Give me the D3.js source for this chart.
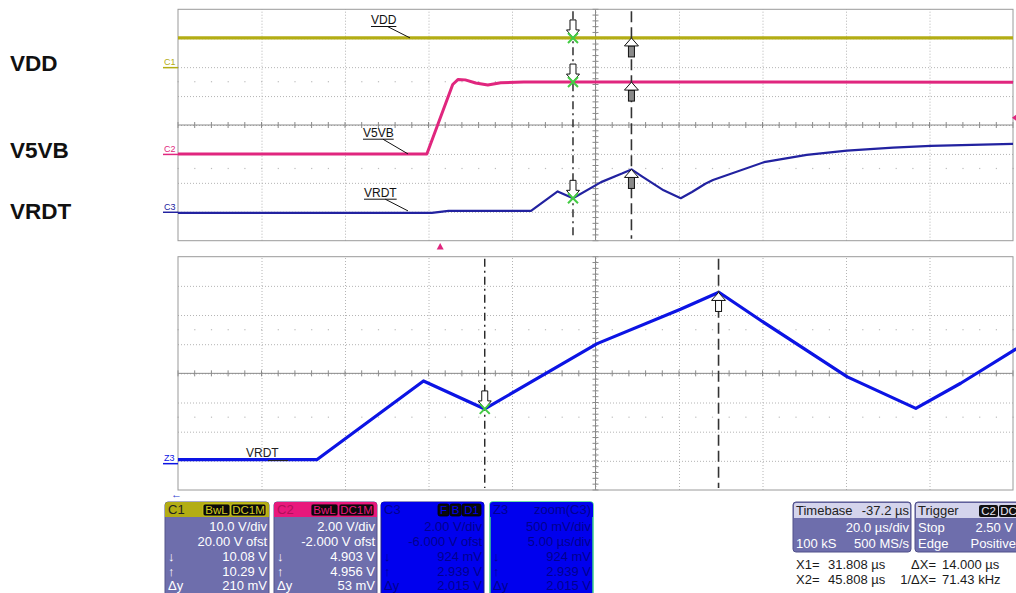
<!DOCTYPE html>
<html><head><meta charset="utf-8">
<script src="https://cdn.jsdelivr.net/npm/d3@7"></script>
<style>body{margin:0;background:#fff;overflow:hidden}svg{display:block;font-family:"Liberation Sans",Arial,sans-serif}</style>
</head><body><svg id="c" width="1016" height="593"></svg>
<script>
// ---------- data (time in µs, values in V) ----------
const vddT  = [-62.8, 137.2];
const vddV  = [10.1, 10.1];
const v5vbT = [-62.8, -3.2, 3.0, 4.3, 6.0, 8.5, 11.4, 14.5, 20, 137.2];
const v5vbV = [0, 0, 4.8, 5.15, 5.12, 4.9, 4.76, 4.92, 4.97, 4.96];
const vrdtT = [-62.8, -2, 2, 21.75, 28.14, 31.81, 38.54, 43.53, 45.83, 48.32, 53.52, 57.62, 60.31, 63.51, 65.34, 77.56, 87.79, 97.44, 108.46, 117.49, 137.2];
const vrdtV = [-0.08, -0.08, 0.06, 0.06, 1.41, 0.93, 2.05, 2.64, 2.93, 2.45, 1.48, 0.94, 1.37, 1.94, 2.2, 3.43, 3.93, 4.23, 4.43, 4.55, 4.69];
const cursorT = [31.808, 45.808];
const triggerLevel = 2.5;
const sideLabels = ["VDD", "V5VB", "VRDT"];
const traceNames = ["VDD", "V5VB", "VRDT"];
const chNames = ["C1", "C2", "C3", "Z3"];
const chBadges = [["BwL","DC1M"], ["BwL","DC1M"], ["F","B","D1"], []];
const chHeadRight = ["", "", "", "zoom(C3)"];
const chLines = [
  ["10.0 V/div", "20.00 V ofst", "10.08 V", "10.29 V", "210 mV"],
  ["2.00 V/div", "-2.000 V ofst", "4.903 V", "4.956 V", "53 mV"],
  ["2.00 V/div", "-6.000 V ofst", "924 mV", "2.939 V", "2.015 V"],
  ["500 mV/div", "5.00 µs/div", "924 mV", "2.939 V", "2.015 V"]
];
const rowMarks = ["", "", "↓", "↑", "Δy"];
const timebaseRows = [["Timebase", "-37.2 µs"], ["", "20.0 µs/div"], ["100 kS", "500 MS/s"]];
const triggerRows = [["Trigger", ""], ["Stop", "2.50 V"], ["Edge", "Positive"]];
const triggerBadges = ["C2", "DC"];
const readout = [["X1=", "31.808 µs", "ΔX=", "14.000 µs"], ["X2=", "45.808 µs", "1/ΔX=", "71.43 kHz"]];

// ---------- layout ----------
const svg = d3.select("#c");
const L = 178, R = 1013;
const topP = {y0: 9.3, y1: 240.7}, botP = {y0: 256.7, y1: 490};
const col = {yel: "#b3ad14", pink: "#e0267e", navy: "#2222a0", blue: "#0c14e4", grid: "#b4b4b4", axis: "#8a8a8a"};

const xTop  = d3.scaleLinear().domain([-62.8, 137.2]).range([L, R]);
const xZoom = d3.scaleLinear().domain([13.44, 63.44]).range([L, R]);
const yC1 = d3.scaleLinear().domain([-60, 20]).range([topP.y1, topP.y0]);
const yC2 = d3.scaleLinear().domain([-6, 10]).range([topP.y1, topP.y0]);
const yC3 = d3.scaleLinear().domain([-2, 14]).range([topP.y1, topP.y0]);
const yZ3 = d3.scaleLinear().domain([-0.46, 3.54]).range([botP.y1, botP.y0]);

function interp(T, V, t) {
  const i = Math.max(1, Math.min(T.length - 1, d3.bisectLeft(T, t)));
  const a = T[i-1], b = T[i];
  return V[i-1] + (V[i] - V[i-1]) * (t - a) / (b - a);
}

// ---------- grids ----------
function grid(p) {
  const g = svg.append("g");
  const h = p.y1 - p.y0, w = R - L;
  const yDiv = d3.scaleLinear().domain([0, 8]).range([p.y1, p.y0]);
  const xDiv = d3.scaleLinear().domain([0, 10]).range([L, R]);
  g.append("g").attr("transform", `translate(0,${p.y1})`)
    .call(d3.axisBottom(xDiv).tickValues(d3.range(1, 10)).tickSize(-h).tickFormat(""))
    .call(s => { s.select(".domain").remove(); s.selectAll("line").attr("stroke", col.grid).attr("stroke-dasharray", "1,2"); });
  g.append("g").attr("transform", `translate(${L},0)`)
    .call(d3.axisLeft(yDiv).tickValues(d3.range(1, 8)).tickSize(-w).tickFormat(""))
    .call(s => { s.select(".domain").remove(); s.selectAll("line").attr("stroke", col.grid).attr("stroke-dasharray", "1,2"); });
  const minors = d3.range(0, 50.01, 1).map(i => xDiv(i / 5));
  [2.5, 5.5].forEach(r => {
    g.selectAll(null).data(minors).join("rect")
      .attr("x", d => d - 0.5).attr("y", yDiv(r) - 0.5).attr("width", 1.2).attr("height", 1.2).attr("fill", "#bdbdbd");
  });
  const cy = yDiv(4), cx = xDiv(5);
  g.append("line").attr("x1", L).attr("x2", R).attr("y1", cy).attr("y2", cy).attr("stroke", col.axis);
  g.append("line").attr("x1", cx).attr("x2", cx).attr("y1", p.y0).attr("y2", p.y1).attr("stroke", col.axis);
  g.selectAll(null).data(minors).join("line")
    .attr("x1", d => d).attr("x2", d => d).attr("y1", cy - 3).attr("y2", cy + 3).attr("stroke", col.axis);
  g.selectAll(null).data(d3.range(0, 40.01, 1).map(i => yDiv(i / 5))).join("line")
    .attr("y1", d => d).attr("y2", d => d).attr("x1", cx - 3).attr("x2", cx + 3).attr("stroke", col.axis);
  g.append("rect").attr("x", L).attr("y", p.y0).attr("width", w).attr("height", h)
    .attr("fill", "none").attr("stroke", "#9a9a9a");
}
grid(topP);
grid(botP);

const defs = svg.append("defs");
defs.append("clipPath").attr("id", "ct").append("rect").attr("x", L).attr("y", topP.y0).attr("width", R - L + 3).attr("height", topP.y1 - topP.y0);
defs.append("clipPath").attr("id", "cb").append("rect").attr("x", L).attr("y", botP.y0).attr("width", R - L + 3).attr("height", botP.y1 - botP.y0);

function trace(clip, x, y, T, V, color, w) {
  svg.append("path").attr("clip-path", `url(#${clip})`)
    .datum(T.map((t, i) => [t, V[i]]))
    .attr("d", d3.line().x(d => x(d[0])).y(d => y(d[1])))
    .attr("fill", "none").attr("stroke", color).attr("stroke-width", w).attr("stroke-linejoin", "round");
}
trace("ct", xTop, yC1, vddT, vddV, col.yel, 3.2);
trace("ct", xTop, yC2, v5vbT, v5vbV, col.pink, 3);
trace("ct", xTop, yC3, vrdtT, vrdtV, col.navy, 2.2);
trace("cb", xZoom, yZ3, vrdtT, vrdtV, col.blue, 3.2);

[[xTop, topP], [xZoom, botP]].forEach(([x, p]) => {
  svg.append("line").attr("x1", x(cursorT[0])).attr("x2", x(cursorT[0])).attr("y1", p.y0 + 2).attr("y2", p.y1 - 2)
    .attr("stroke", "#222").attr("stroke-width", 1.4).attr("stroke-dasharray", "8,4,2,4");
  svg.append("line").attr("x1", x(cursorT[1])).attr("x2", x(cursorT[1])).attr("y1", p.y0 + 2).attr("y2", p.y1 - 2)
    .attr("stroke", "#333").attr("stroke-width", 1.6).attr("stroke-dasharray", "11,5");
});

function downArrow(x, y) {
  svg.append("path").attr("d", `M${x},${y}L${x-6.5},${y-8}L${x-3},${y-8}L${x-3},${y-18}L${x+3},${y-18}L${x+3},${y-8}L${x+6.5},${y-8}Z`)
    .attr("fill", "#fff").attr("stroke", "#111").attr("stroke-width", 1);
  svg.append("path").attr("d", `M${x-5},${y-5}L${x+5},${y+5}M${x+5},${y-5}L${x-5},${y+5}`)
    .attr("stroke", "#44cc44").attr("stroke-width", 2);
}
function upArrow(x, y, stemFill) {
  svg.append("rect").attr("x", x - 3).attr("y", y + 8).attr("width", 6).attr("height", 11)
    .attr("fill", stemFill).attr("stroke", "#111").attr("stroke-width", 1);
  svg.append("path").attr("d", `M${x},${y}L${x+7},${y+8}L${x-7},${y+8}Z`)
    .attr("fill", "#fff").attr("stroke", "#111").attr("stroke-width", 1);
}
const topSets = [[yC1, vddT, vddV], [yC2, v5vbT, v5vbV], [yC3, vrdtT, vrdtV]];
topSets.forEach(([y, T, V]) => {
  downArrow(xTop(cursorT[0]), y(interp(T, V, cursorT[0])));
  upArrow(xTop(cursorT[1]), y(interp(T, V, cursorT[1])), "#8a8a8a");
});
downArrow(xZoom(cursorT[0]), yZ3(interp(vrdtT, vrdtV, cursorT[0])));
upArrow(xZoom(cursorT[1]), yZ3(interp(vrdtT, vrdtV, cursorT[1])), "#fff");

const annoX = [371, 363, 364];
const annoY = [24, 136.7, 196.7];
const annoEnd = [[410, yC1(10.1)], [408, yC2(0)], [408, yC3(0.06)]];
traceNames.forEach((n, i) => {
  const t = svg.append("text").attr("x", annoX[i]).attr("y", annoY[i]).attr("font-size", 12).attr("fill", "#111").text(n);
  const w = t.node().getComputedTextLength();
  svg.append("line").attr("x1", annoX[i]).attr("x2", annoX[i] + w).attr("y1", annoY[i] + 2.5).attr("y2", annoY[i] + 2.5).attr("stroke", "#111");
  svg.append("line").attr("x1", annoX[i] + w * 0.65).attr("y1", annoY[i] + 2.5).attr("x2", annoEnd[i][0]).attr("y2", annoEnd[i][1]).attr("stroke", "#111");
});
svg.append("text").attr("x", 246).attr("y", 457).attr("font-size", 12).attr("fill", "#222").text(traceNames[2]);
svg.append("line").attr("x1", 268).attr("x2", 288).attr("y1", 460.5).attr("y2", 460.5).attr("stroke", "#222");

const gndY = [yC1(0), yC2(0), yC3(0), yZ3(0)];
const gndCol = [col.yel, col.pink, col.navy, col.blue];
chNames.forEach((n, i) => {
  svg.append("text").attr("x", 164).attr("y", gndY[i] - 2).attr("font-size", 9).attr("fill", gndCol[i]).text(n);
  svg.append("line").attr("x1", 163).attr("x2", 178).attr("y1", gndY[i] + 0.5).attr("y2", gndY[i] + 0.5).attr("stroke", gndCol[i]).attr("stroke-width", 1.5);
});
const tx = xTop(0);
svg.append("path").attr("d", `M${tx},243L${tx+3.5},249.5L${tx-3.5},249.5Z`).attr("fill", col.pink);
const tly = yC2(triggerLevel);
svg.append("path").attr("d", `M1012,${tly}L1016,${tly-3}L1016,${tly+3}Z`).attr("fill", col.pink);
svg.append("text").attr("x", 171).attr("y", 498).attr("font-size", 11).attr("fill", "#2a3ad0").text("←");

const sideY = [70.7, 158, 219];
sideLabels.forEach((s, i) => svg.append("text").attr("x", 10).attr("y", sideY[i]).attr("font-size", 22.5).attr("font-weight", "bold").attr("fill", "#111").text(s));

const boxX = [165, 274, 381, 490], boxW = [104, 103, 103, 103];
const headCol = [col.yel, "#e8187c", "#0000ee", "#0000ee"];
const headTxt = ["#222", "#b0105a", "#000090", "#000090"];
const bodyCol = ["#6e6eac", "#6e6eac", "#0000ee", "#0000ee"];
const bodyTxt = ["#fff", "#fff", "#00008e", "#00008e"];
const badgeTxt = ["#d4cc20", "#e8187c", "#0000ee", "#0000ee"];
const rowY = [530.5, 545.5, 560.5, 575.5, 589.5];
chNames.forEach((n, i) => {
  const g = svg.append("g");
  const x = boxX[i], w = boxW[i];
  g.append("rect").attr("x", x).attr("y", 502).attr("width", w).attr("height", 110).attr("rx", 3)
    .attr("fill", bodyCol[i]).attr("stroke", i === 3 ? "#3fd08a" : (i === 2 ? "#202080" : "#55558a")).attr("stroke-width", i === 3 ? 1.5 : 1);
  g.append("path").attr("d", `M${x},517V505Q${x},502 ${x+3},502H${x+w-3}Q${x+w},502 ${x+w},505V517Z`).attr("fill", headCol[i]);
  g.append("text").attr("x", x + 3).attr("y", 514).attr("font-size", 13).attr("fill", headTxt[i]).text(n);
  let bx = x + w - 2;
  chBadges[i].slice().reverse().forEach(b => {
    const bw = b.length * 8 + 4;
    bx -= bw;
    g.append("rect").attr("x", bx).attr("y", 504).attr("width", bw - 1).attr("height", 12).attr("rx", 2).attr("fill", "#0a0a0a")
      .attr("stroke", headCol[i] === "#0000ee" ? "#000" : badgeTxt[i]).attr("stroke-width", 0.8);
    g.append("text").attr("x", bx + (bw - 1) / 2).attr("y", 514).attr("text-anchor", "middle").attr("font-size", 11.5).attr("fill", badgeTxt[i]).text(b);
  });
  if (chHeadRight[i]) g.append("text").attr("x", x + w - 2).attr("y", 514).attr("text-anchor", "end").attr("font-size", 13).attr("fill", headTxt[i]).text(chHeadRight[i]);
  chLines[i].forEach((t, j) => {
    g.append("text").attr("x", x + w - 2).attr("y", rowY[j]).attr("text-anchor", "end").attr("font-size", 13).attr("fill", bodyTxt[i]).text(t);
    if (rowMarks[j]) g.append("text").attr("x", x + 3).attr("y", rowY[j]).attr("font-size", 13).attr("fill", bodyTxt[i]).text(rowMarks[j]);
  });
});

function infoBox(x, w, rows, badges) {
  const g = svg.append("g");
  g.append("rect").attr("x", x).attr("y", 502).attr("width", w).attr("height", 50).attr("rx", 3).attr("fill", "#6e6eac").attr("stroke", "#50508a");
  g.append("path").attr("d", `M${x+1},518V505Q${x+1},503 ${x+3},503H${x+w-3}Q${x+w-1},503 ${x+w-1},505V518Z`).attr("fill", "#d4d4ec");
  const ty = [515, 532, 548];
  rows.forEach((r, j) => {
    const c = j === 0 ? "#222" : "#fff";
    if (r[0]) g.append("text").attr("x", x + 3).attr("y", ty[j]).attr("font-size", 13).attr("fill", c).text(r[0]);
    if (r[1]) g.append("text").attr("x", x + w - 2).attr("y", ty[j]).attr("text-anchor", "end").attr("font-size", 13).attr("fill", c).text(r[1]);
  });
  if (badges) {
    let bx = 979;
    badges.forEach(b => {
      const bw = b.length * 8 + 3;
      g.append("rect").attr("x", bx).attr("y", 505).attr("width", bw).attr("height", 12).attr("rx", 2).attr("fill", "#111");
      g.append("text").attr("x", bx + bw / 2).attr("y", 515).attr("text-anchor", "middle").attr("font-size", 11.5).attr("fill", "#e8e8f4").text(b);
      bx += bw + 1;
    });
  }
}
infoBox(793, 118, timebaseRows, null);
infoBox(915, 110, triggerRows.map((r, j) => j === 0 ? r : [r[0], ""]), triggerBadges);
svg.append("text").attr("x", 1013).attr("y", 532).attr("text-anchor", "end").attr("font-size", 13).attr("fill", "#fff").text(triggerRows[1][1]);
svg.append("text").attr("x", 1016).attr("y", 548).attr("text-anchor", "end").attr("font-size", 13).attr("fill", "#fff").text(triggerRows[2][1]);

// cursor readout: label, value, label (right-aligned), value
const roY = [569, 584];
readout.forEach((r, j) => {
  svg.append("text").attr("x", 796).attr("y", roY[j]).attr("font-size", 13).attr("fill", "#1a1a1a").text(r[0]);
  svg.append("text").attr("x", 828).attr("y", roY[j]).attr("font-size", 13).attr("fill", "#1a1a1a").text(r[1]);
  svg.append("text").attr("x", 936).attr("y", roY[j]).attr("text-anchor", "end").attr("font-size", 13).attr("fill", "#1a1a1a").text(r[2]);
  svg.append("text").attr("x", 942).attr("y", roY[j]).attr("font-size", 13).attr("fill", "#1a1a1a").text(r[3]);
});
</script></body></html>
